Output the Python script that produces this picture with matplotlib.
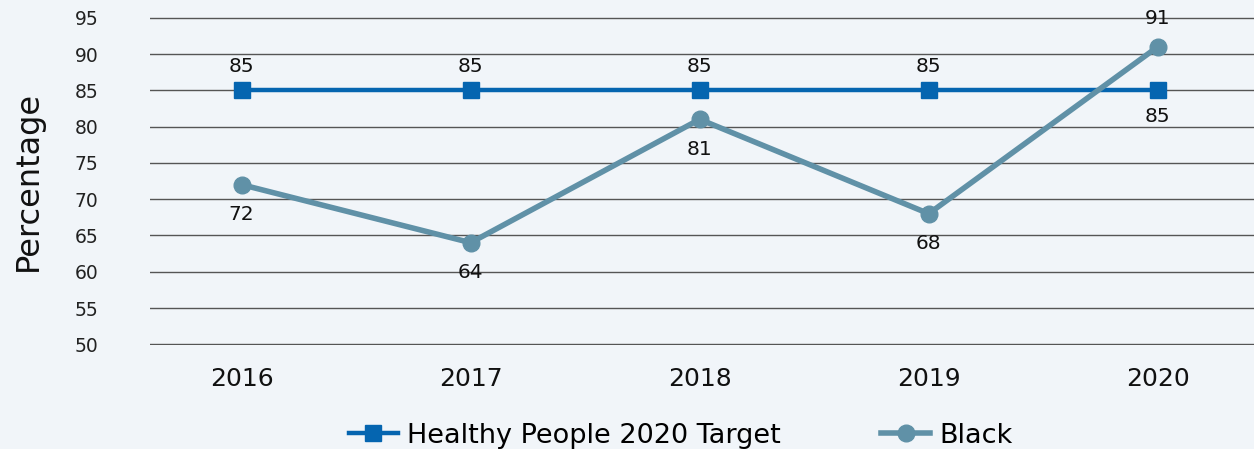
import matplotlib
matplotlib.use("Agg")
import matplotlib.pyplot as plt

years = ["2016", "2017", "2018", "2019", "2020"]
target = [85, 85, 85, 85, 85]
black = [72, 64, 81, 68, 91]
y_ticks = [50, 55, 60, 65, 70, 75, 80, 85, 90, 95]

plt.rcParams["font.family"] = ["DejaVu Sans"]

bg = "#f1f5f9"
blue = "#0565b0"
teal = "#6091a7"

fig = plt.figure(figsize=(12.54, 4.49), dpi=100, facecolor=bg)
ax = fig.add_axes([0.1196, 0.2316, 0.8804, 0.7305], facecolor=bg)

x = list(range(len(years)))
ax.plot(x, target, color=blue, lw=3.2, marker="s", ms=12, zorder=3,
        label="Healthy People 2020 Target")
ax.plot(x, black, color=teal, lw=4, marker="o", ms=12, zorder=4,
        label="Black")

# value labels
for i, v in enumerate(target):
    off = -26 if i == len(target) - 1 else 24
    ax.annotate(f"{v}", (i, v), xytext=(0, off), textcoords="offset pixels",
                ha="center", va="center", fontsize=14.5, color="#111111")
for i, v in enumerate(black):
    off = 28 if i == len(black) - 1 else -30
    ax.annotate(f"{v}", (i, v), xytext=(0, off), textcoords="offset pixels",
                ha="center", va="center", fontsize=14.5, color="#111111")

ax.set_xlim(-0.4, 4.42)
ax.set_ylim(49.9, 95.1)
ax.set_yticks(y_ticks)
ax.set_xticks(x)
ax.set_xticklabels(years)
ax.yaxis.grid(True, color="#555555", lw=1)
ax.set_axisbelow(True)
for s in ax.spines.values():
    s.set_visible(False)
ax.tick_params(axis="y", length=0, pad=37, labelsize=13.5, labelcolor="#222222")
ax.tick_params(axis="x", length=0, pad=16, labelsize=18, labelcolor="#111111")
ax.set_ylabel("Percentage", fontsize=23, color="#111111")
ax.yaxis.set_label_coords(-0.096, 0.5)

leg = fig.legend(loc="center", bbox_to_anchor=(0.543, 0.03), ncol=2,
                 frameon=False, fontsize=19.5, columnspacing=3.7,
                 handlelength=1.8, handletextpad=0.35)

fig.savefig("out.png", dpi=100, facecolor=bg)
